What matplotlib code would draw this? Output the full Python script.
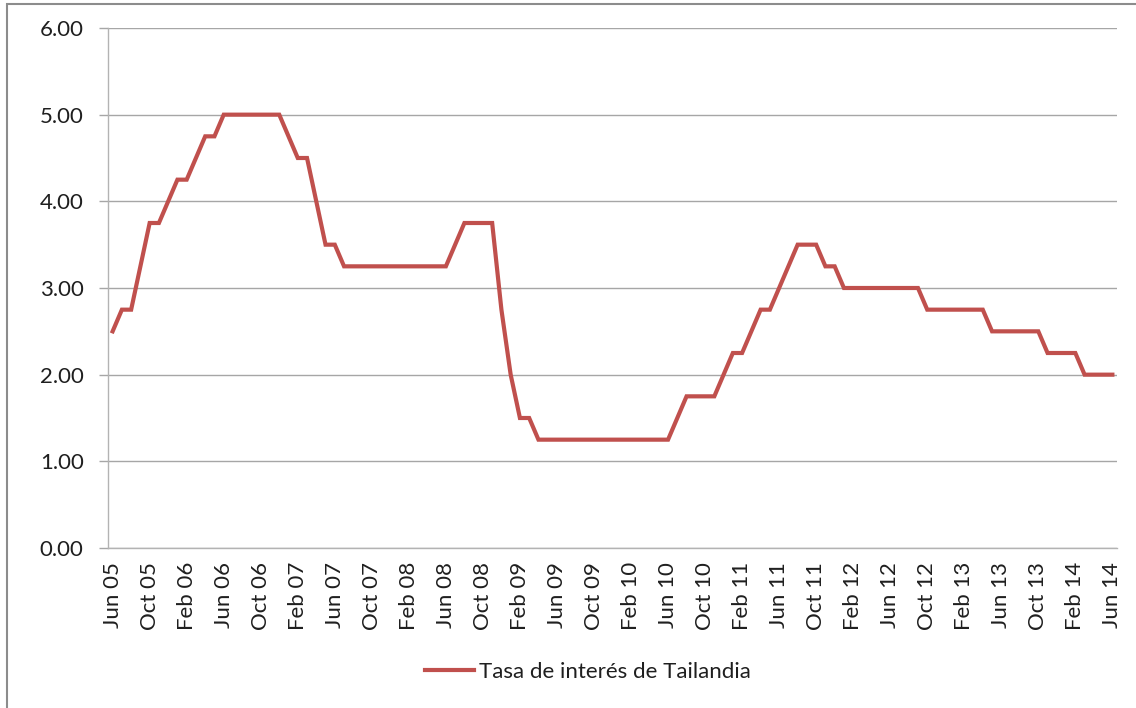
import matplotlib

matplotlib.use("Agg")
import matplotlib.pyplot as plt
import pandas as pd
from matplotlib.patches import Rectangle

W, H = 1136, 708

# monthly policy rate, Jun 2005 .. Jun 2014
months = pd.date_range("2005-06-01", "2014-06-01", freq="MS")
month_labels = [d.strftime("%b %y") for d in months]
rate = [
    2.50, 2.75, 2.75, 3.25, 3.75, 3.75, 4.00,                    # Jun05-Dec05
    4.25, 4.25, 4.50, 4.75, 4.75, 5.00, 5.00, 5.00, 5.00, 5.00, 5.00, 5.00,  # 2006
    4.75, 4.50, 4.50, 4.00, 3.50, 3.50, 3.25, 3.25, 3.25, 3.25, 3.25, 3.25,  # 2007
    3.25, 3.25, 3.25, 3.25, 3.25, 3.25, 3.50, 3.75, 3.75, 3.75, 3.75, 2.75,  # 2008
    2.00, 1.50, 1.50, 1.25, 1.25, 1.25, 1.25, 1.25, 1.25, 1.25, 1.25, 1.25,  # 2009
    1.25, 1.25, 1.25, 1.25, 1.25, 1.25, 1.50, 1.75, 1.75, 1.75, 1.75, 2.00,  # 2010
    2.25, 2.25, 2.50, 2.75, 2.75, 3.00, 3.25, 3.50, 3.50, 3.50, 3.25, 3.25,  # 2011
    3.00, 3.00, 3.00, 3.00, 3.00, 3.00, 3.00, 3.00, 3.00, 2.75, 2.75, 2.75,  # 2012
    2.75, 2.75, 2.75, 2.75, 2.50, 2.50, 2.50, 2.50, 2.50, 2.50, 2.25, 2.25,  # 2013
    2.25, 2.25, 2.00, 2.00, 2.00, 2.00,                          # Jan14-Jun14
]
series_name = "Tasa de interés de Tailandia"
y_ticks = [0, 1, 2, 3, 4, 5, 6]

FONT = ["Lato", "DejaVu Sans"]
LINE_COLOR = "#C0504D"
GRID_COLOR = "#A6A6A6"
TEXT_COLOR = "#1F1F1F"

plt.rcParams["font.family"] = FONT

fig = plt.figure(figsize=(W / 100, H / 100), dpi=100)
ax = fig.add_axes([108 / W, 1 - 548 / H, (1117 - 108) / W, (548 - 28) / H])

x = list(range(len(rate)))
ax.plot(x, rate, color=LINE_COLOR, lw=3.0, solid_joinstyle="miter", label=series_name, zorder=3)

ax.set_xlim(-0.5, len(rate) - 0.5)
ax.set_ylim(0, 6)
ax.set_yticks(y_ticks)
ax.set_yticklabels([f"{v:.2f}" for v in y_ticks])
tick_idx = x[::4]
ax.set_xticks(tick_idx)
ax.set_xticklabels([month_labels[i] for i in tick_idx], rotation=90)

ax.grid(axis="y", color=GRID_COLOR, lw=1.0)
ax.set_axisbelow(True)
for side in ("top", "right"):
    ax.spines[side].set_visible(False)
for side in ("left", "bottom"):
    ax.spines[side].set_color("#B3B3B3")
    ax.spines[side].set_linewidth(1.0)

ax.tick_params(axis="y", length=6.5, width=1.0, color=GRID_COLOR, pad=11, labelsize=16, labelcolor=TEXT_COLOR)
ax.tick_params(axis="x", length=0, pad=10, labelsize=16, labelcolor=TEXT_COLOR)

fig.legend(
    loc="center",
    bbox_to_anchor=(588 / W, 1 - 672 / H),
    frameon=False,
    fontsize=16,
    handlelength=2.2,
    handletextpad=0.25,
    labelcolor=TEXT_COLOR,
)

# outer chart border (cut off at right and bottom in the source)
fig.add_artist(Rectangle((7 / W, -0.05), 1.1, 1.05 - 4 / H, transform=fig.transFigure,
                         fill=False, edgecolor="#8C8C8C", lw=1.5))

fig.savefig("out.png", dpi=100)
